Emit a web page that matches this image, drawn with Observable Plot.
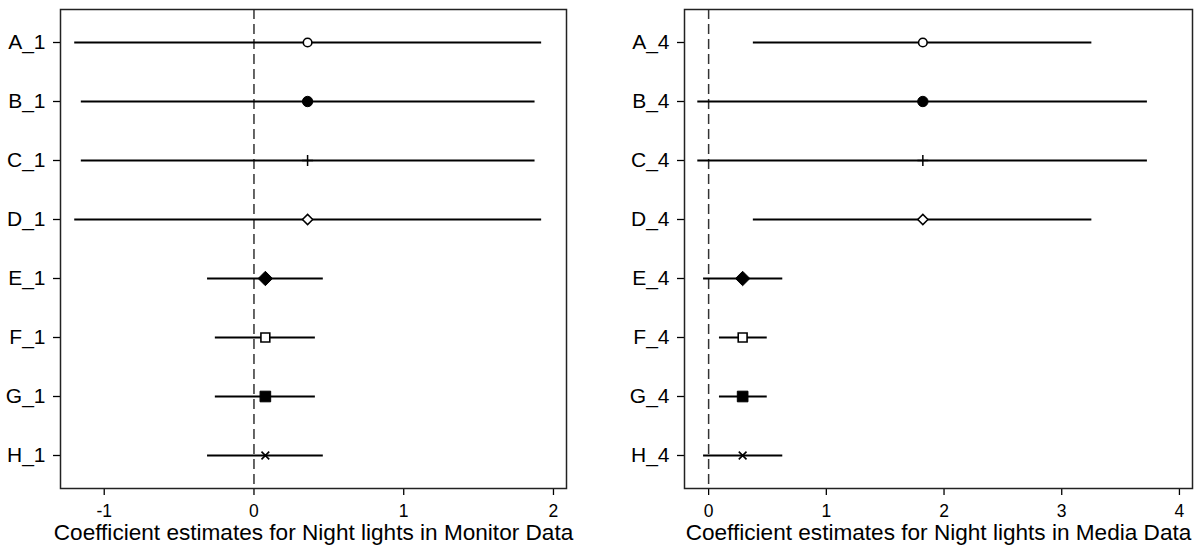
<!DOCTYPE html>
<html>
<head>
<meta charset="utf-8">
<script src="https://cdn.jsdelivr.net/npm/d3@7"></script>
<script src="https://cdn.jsdelivr.net/npm/@observablehq/plot@0.6"></script>
<style>
  html, body { margin: 0; padding: 0; background: #fff; }
  #wrap { display: flex; width: 1202px; height: 557px; }
</style>
</head>
<body>
<div id="wrap"></div>
<script>
// ---- Data ----
const labelsLeft = ["A_1", "B_1", "C_1", "D_1", "E_1", "F_1", "G_1", "H_1"];
const estLeft = [0.358, 0.358, 0.358, 0.358, 0.076, 0.076, 0.076, 0.076];
const loLeft  = [-1.197, -1.153, -1.153, -1.197, -0.31, -0.258, -0.258, -0.31];
const hiLeft  = [1.921, 1.877, 1.877, 1.921, 0.463, 0.41, 0.41, 0.463];
const ticksLeft = [-1, 0, 1, 2];
const titleLeft = "Coefficient estimates for Night lights in Monitor Data";

const labelsRight = ["A_4", "B_4", "C_4", "D_4", "E_4", "F_4", "G_4", "H_4"];
const estRight = [1.82, 1.82, 1.82, 1.82, 0.289, 0.289, 0.289, 0.289];
const loRight  = [0.38, -0.092, -0.092, 0.38, -0.043, 0.092, 0.092, -0.043];
const hiRight  = [3.256, 3.728, 3.728, 3.256, 0.63, 0.498, 0.498, 0.63];
const ticksRight = [0, 1, 2, 3, 4];
const titleRight = "Coefficient estimates for Night lights in Media Data";

// ---- Marker styles (by row order) ----
const markerStyles = [
  {symbol: "circle",   fill: "white", r: 4.3, sw: 1.6},
  {symbol: "circle",   fill: "black", r: 5.2, sw: 1},
  {symbol: "plus",     fill: "none",  r: 3.6, sw: 1.5},
  {symbol: "diamond2", fill: "white", r: 4.6, sw: 1.5},
  {symbol: "diamond2", fill: "black", r: 6.5, sw: 1},
  {symbol: "square",   fill: "white", r: 5.0, sw: 1.6},
  {symbol: "square",   fill: "black", r: 6.0, sw: 1},
  {symbol: "times",    fill: "none",  r: 3.6, sw: 1.6}
];

function panel(labels, est, lo, hi, ticks, title, xdomain, ml, mr) {
  const rows = labels.map((l, i) => ({label: l, est: est[i], lo: lo[i], hi: hi[i], i}));
  return Plot.plot({
    width: 601,
    height: 557,
    marginLeft: ml,
    marginRight: mr,
    marginTop: 9,
    marginBottom: 69,
    style: {fontFamily: "'Liberation Sans', Arial, sans-serif", fontSize: "18px", color: "black", background: "white"},
    x: {domain: xdomain},
    y: {type: "point", domain: labels, padding: 0.5},
    marks: [
      Plot.axisX({ticks: ticks, tickFormat: d => String(d), tickSize: 7, tickPadding: 9, fontSize: 17.5, label: null, strokeWidth: 1.3}),
      Plot.axisY({tickSize: 7, tickPadding: 8, fontSize: 21, label: null, strokeWidth: 1.3}),
      Plot.text([title], {text: d => d, frameAnchor: "bottom", dy: 51.5, fontSize: 22.6, fill: "black"}),
      Plot.ruleX([0], {stroke: "#333", strokeWidth: 1.5, strokeDasharray: "10,5"}),
      Plot.ruleY(rows, {y: "label", x1: "lo", x2: "hi", stroke: "black", strokeWidth: 2}),
      ...markerStyles.map((s, k) => Plot.dot(rows.filter(d => d.i === k), {
        x: "est", y: "label", symbol: () => s.symbol, r: s.r,
        fill: s.fill, stroke: "black", strokeWidth: s.sw
      })),
      Plot.frame({stroke: "#222", strokeWidth: 1.5})
    ],
    symbol: {type: "identity"}
  });
}

const wrap = document.getElementById("wrap");
wrap.appendChild(panel(labelsLeft, estLeft, loLeft, hiLeft, ticksLeft, titleLeft, [-1.292, 2.087], 60, 35));
wrap.appendChild(panel(labelsRight, estRight, loRight, hiRight, ticksRight, titleRight, [-0.205, 4.111], 83, 10));
</script>
</body>
</html>
